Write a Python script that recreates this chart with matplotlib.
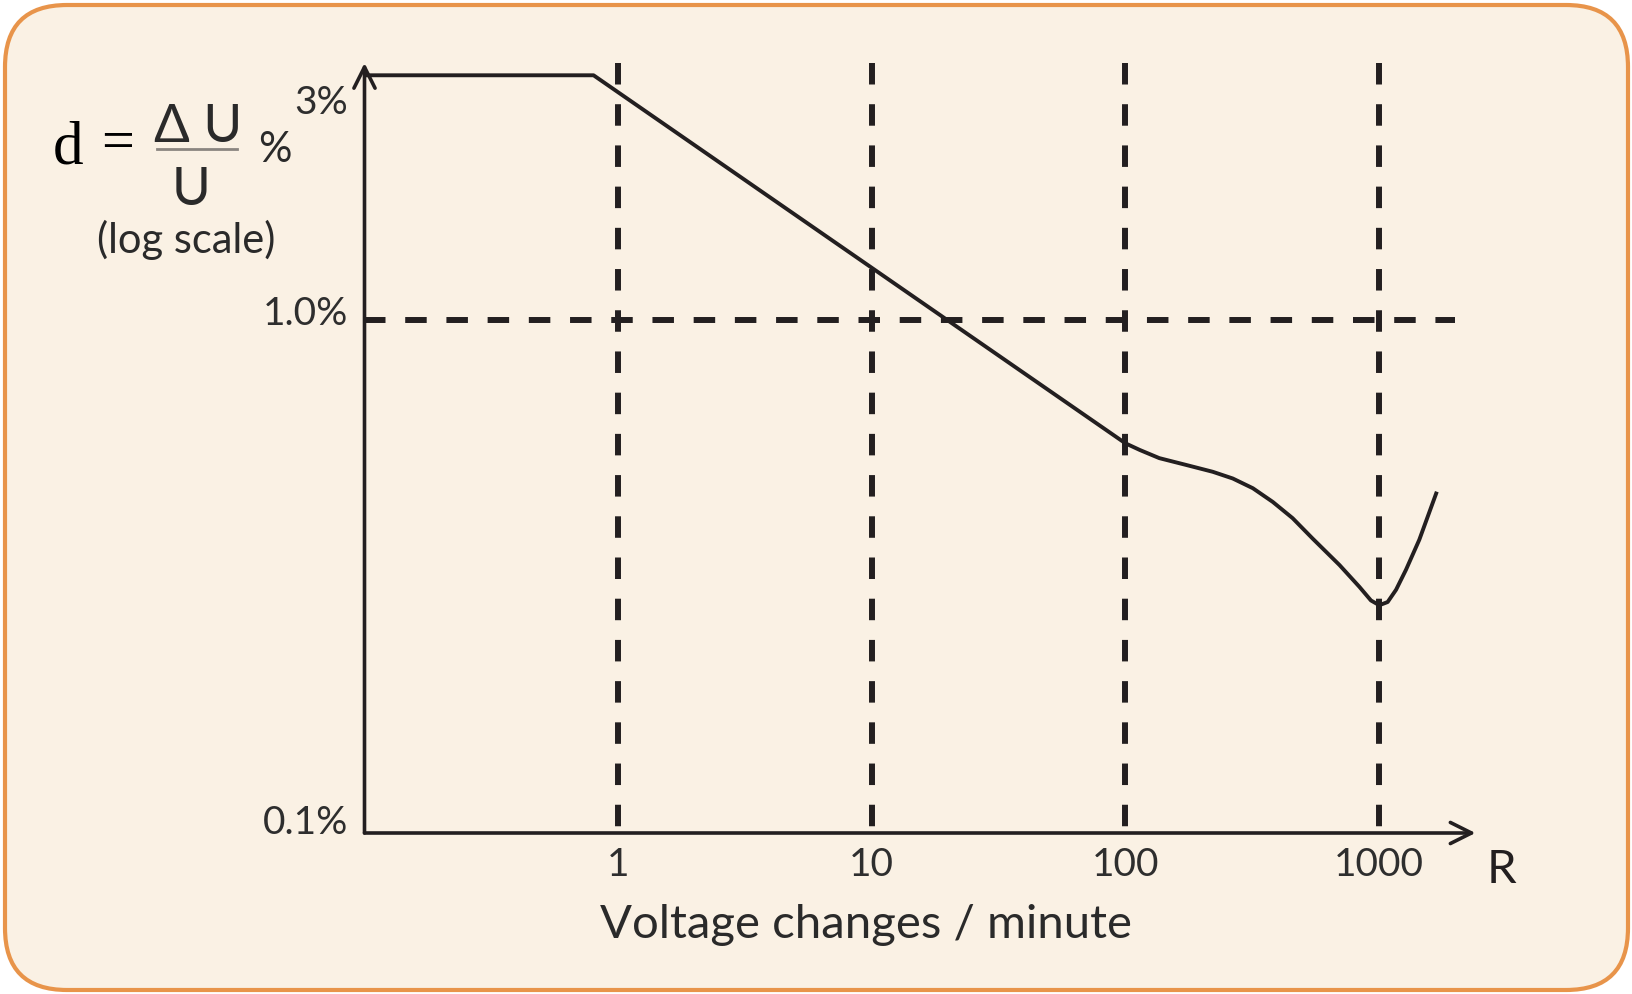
import numpy as np
import matplotlib
matplotlib.use('Agg')
import matplotlib.pyplot as plt
from matplotlib.patches import FancyBboxPatch
from matplotlib.transforms import IdentityTransform, ScaledTranslation

# Permissible voltage fluctuation vs. rate of change (log-log).
rate = [0.1, 0.8, 100, 114, 136, 173, 221, 265, 318, 381, 456, 547, 698, 836, 929, 1002,
        1081, 1167, 1277, 1441, 1679]
fluct = [3.0, 3.0, 0.575, 0.558, 0.538, 0.522, 0.506, 0.491, 0.470, 0.442, 0.411, 0.375,
         0.333, 0.302, 0.284, 0.278, 0.282, 0.298, 0.326, 0.373, 0.459]

x_ticks = [1, 10, 100, 1000]
x_labels = ['1', '10', '100', '1000']
y_ticks = [0.1, 1.0, 3.0]
y_labels = ['0.1%', '1.0%', '3%']
ref_level = 1.0
ref_end = 2000

W, H = 1633, 994
bg = '#faf1e4'
edge = '#e8944a'
ink = '#231f20'
sans = 'Lato'

plt.rcParams['font.family'] = [sans, 'DejaVu Sans']

fig = plt.figure(figsize=(W / 100, H / 100), dpi=100, facecolor='white')

# rounded panel behind everything (pixel coordinates)
panel = FancyBboxPatch((5, 4), 1623, 985, boxstyle='round,pad=0,rounding_size=62',
                       transform=IdentityTransform(), facecolor=bg, edgecolor=edge,
                       linewidth=3, zorder=-5)
fig.patches.append(panel)


def fx(px):
    return px / W


def fy(py):
    return 1 - py / H


ax = fig.add_axes([fx(364.5), fy(833), 1111 / W, 770 / H])
ax.set_zorder(2)
ax.set_facecolor('none')
ax.set_xscale('log')
ax.set_yscale('log')
ax.set_xlim(0.1, 2400)
ax.set_ylim(0.1, 3.17)
for s in ax.spines.values():
    s.set_visible(False)

# dashed grid, drawn top-down so the pattern starts at the arrow tip
top = ax.get_ylim()[1]
for x in x_ticks:
    ax.plot([x, x], [top, 0.1], color=ink, lw=4.3, dashes=(3.6, 3.3),
            dash_capstyle='butt', zorder=2)
ax.plot([0.1, ref_end], [ref_level, ref_level], color=ink, lw=4.3, dashes=(3.6, 3.3),
        dash_capstyle='butt', zorder=2)

ax.plot(rate, fluct, color=ink, lw=2.8, solid_joinstyle='round', zorder=3)

# axes drawn as arrows
arrow = dict(arrowstyle='->', lw=2.6, color=ink, mutation_scale=38, shrinkA=0, shrinkB=0)
ax.annotate('', xy=(1, 0), xytext=(0, 0), xycoords='axes fraction', arrowprops=arrow)
ax.annotate('', xy=(0, 1), xytext=(0, 0), xycoords='axes fraction', arrowprops=arrow)

ax.set_xticks(x_ticks)
ax.set_xticklabels(x_labels)
ax.set_yticks(y_ticks)
ax.set_yticklabels(y_labels)
ax.minorticks_off()
ax.tick_params(axis='both', length=0, labelsize=28, labelcolor='#2e2e2e')
ax.tick_params(axis='x', pad=10)
ax.tick_params(axis='y', pad=12)
shifts = [-0.08, -0.12, -0.46]
for lab, dy in zip(ax.get_yticklabels(), shifts):
    lab.set_verticalalignment('bottom')
    lab.set_transform(lab.get_transform() + ScaledTranslation(0, dy, fig.dpi_scale_trans))

fig.text(fx(866), fy(925), 'Voltage changes / minute', fontsize=34, color='#2a2a2a',
         ha='center', va='center')
fig.text(fx(1501), fy(870), 'R', fontsize=34, color=ink, ha='center', va='center')

# d = dU / U %
serif = ['Liberation Serif', 'DejaVu Serif']
fig.text(fx(53), fy(163), 'd', fontsize=44, family=serif, color='black', ha='left',
         va='baseline')
fig.text(fx(118), fy(145), '=', fontsize=42, family=serif, color='black', ha='center',
         va='center')
fig.text(fx(198), fy(142), '\u0394 U', fontsize=38, color='#2a2a2a', ha='center',
         va='baseline')
fig.add_artist(plt.Line2D([fx(157), fx(237)], [fy(149), fy(149)], color='#8a8580', lw=2))
fig.text(fx(191), fy(205), 'U', fontsize=38, color='#2a2a2a', ha='center', va='baseline')
fig.text(fx(275), fy(150), '%', fontsize=30, color='#2a2a2a', ha='center', va='center')
fig.text(fx(186), fy(240), '(log scale)', fontsize=30, color='#2a2a2a', ha='center',
         va='center')

fig.savefig('out.png', dpi=100, facecolor='white')
